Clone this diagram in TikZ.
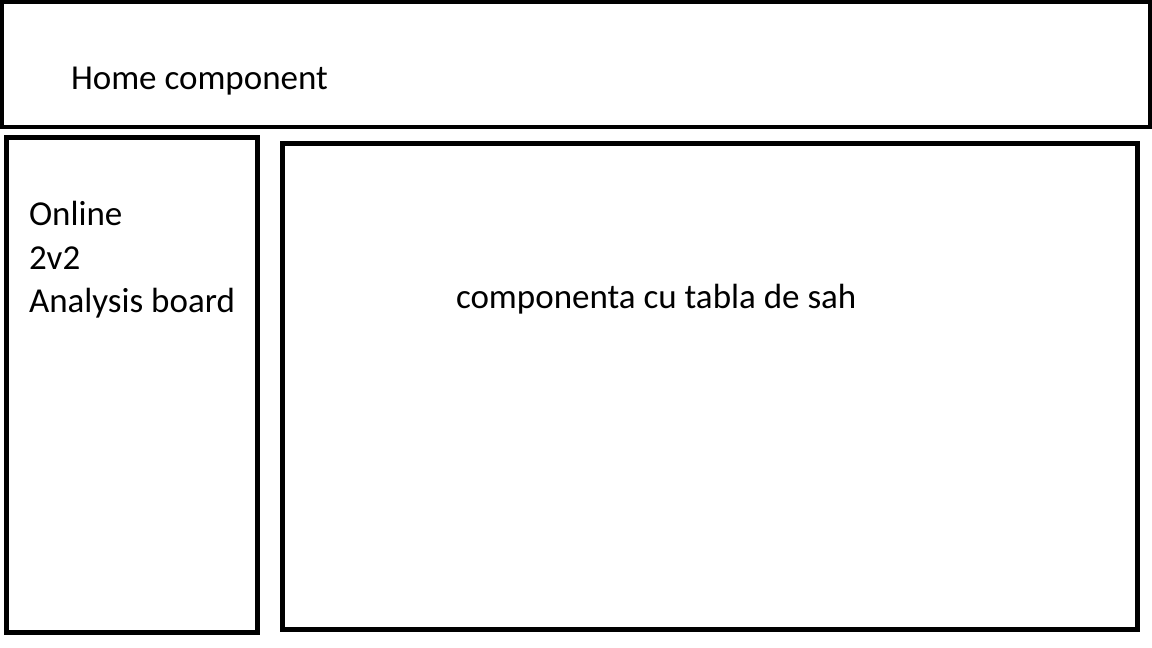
\documentclass[tikz,border=0pt]{standalone}
\usepackage{fontspec}
\setmainfont{Carlito}
\begin{document}
\begin{tikzpicture}[x=0.5pt,y=-0.5pt,
  panel/.style={draw=black,line width=2.5pt,fill=none,inner sep=0pt,outer sep=0pt},
  label/.style={anchor=base west,inner sep=0pt,outer sep=0pt,text=black,
    font=\fontsize{17.5}{21}\selectfont}]
  \useasboundingbox (0,0) rectangle (1152,648);
  % header panel
  \node (home) [panel,line width=2pt,minimum width=574pt,minimum height=62.5pt] at (576,64.5) {};
  % menu column
  \node (menu) [panel,minimum width=125.5pt,minimum height=247.5pt] at (132,385) {};
  % board area
  \node (board) [panel,minimum width=427.5pt,minimum height=243pt] at (710,386) {};
  % texts
  \node (hometext) [label] at (71,90) {Home component};
  \node (online) [label] at (29,225.5) {Online};
  \node (twovtwo) [label] at (29,269.5) {2v2};
  \node (analysis) [label] at (29,312.5) {Analysis board};
  \node (boardtext) [label] at (456,308.5) {componenta cu tabla de sah};
\end{tikzpicture}
\end{document}
